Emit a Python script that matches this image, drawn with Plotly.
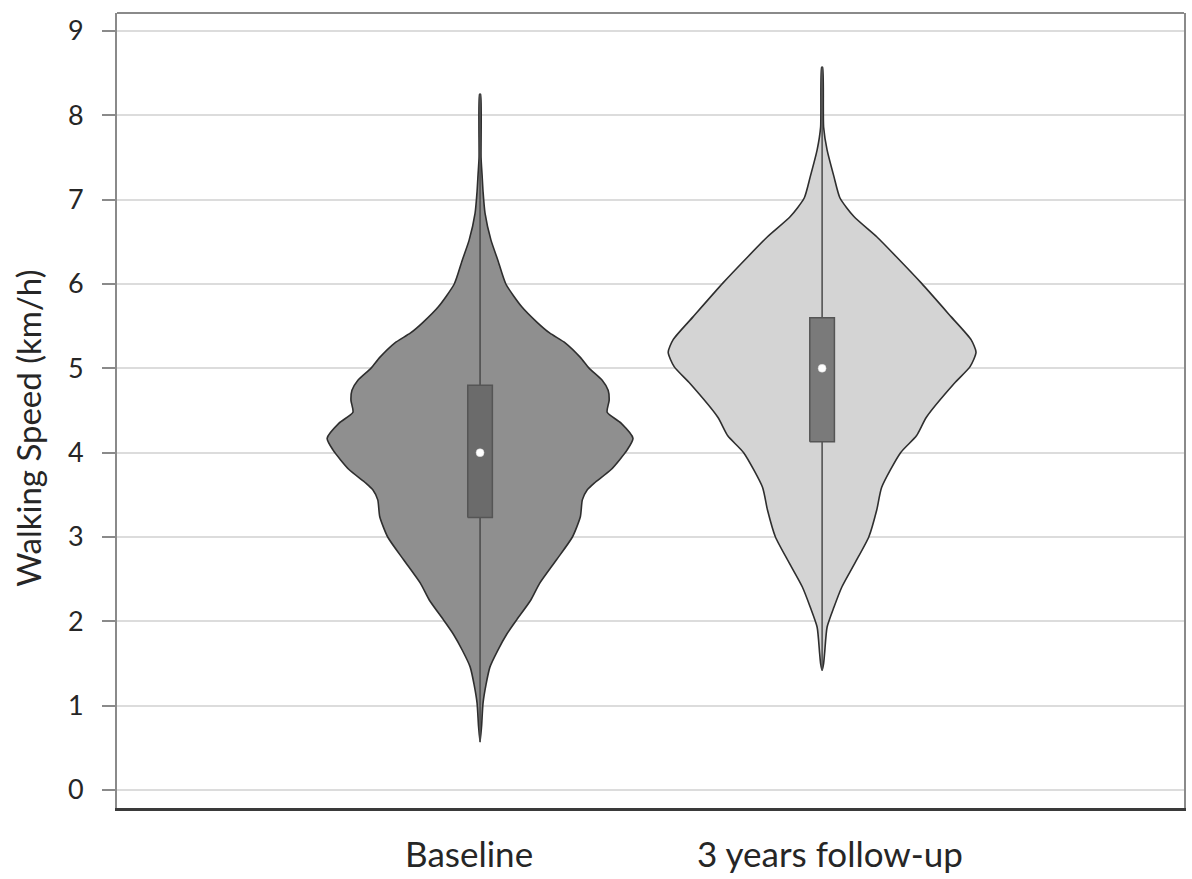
import plotly.graph_objects as go

# ---- data ----
categories = ["Baseline", "3 years follow-up"]
y_title = "Walking Speed (km/h)"

# Baseline density profile: walking speed (km/h) and relative half-width
base_speed = [0.57, 0.75, 1.03, 1.25, 1.46, 1.66, 1.85, 2.02, 2.25, 2.45, 2.73, 3.0, 3.24,
              3.44, 3.56, 3.64, 3.8, 4.03, 4.17, 4.35, 4.48, 4.62, 4.74, 4.86, 5.0, 5.13,
              5.30, 5.42, 5.54, 5.73, 6.0, 6.28, 6.52, 6.84, 7.1, 7.3, 7.5, 8.25]
base_width = [0, 1.5, 3, 6, 10, 18, 27, 37, 51, 60, 77, 93, 101,
              103, 108, 115, 132, 148, 154, 142, 128, 130, 129, 123, 110, 101,
              86, 70, 58, 42, 26, 18, 11, 5, 3, 2, 1, 0.5]

# Follow-up density profile
fu_speed = [1.42, 1.5, 1.62, 1.93, 2.17, 2.41, 2.69, 3.0, 3.32, 3.59, 4.0, 4.2, 4.42,
            4.82, 5.02, 5.19, 5.34, 5.61, 6.01, 6.32, 6.56, 6.80, 7.02, 7.27, 7.59, 7.86, 8.57]
fu_width = [0, 1.5, 2.5, 5, 12, 20, 33, 47, 55, 60, 79, 95, 105,
            133, 149, 155, 150, 130, 100, 75, 55, 32, 18, 12, 5, 1.5, 0.5]

# Box statistics
q1 = [3.23, 4.13]
median = [4.0, 5.0]
q3 = [4.80, 5.60]
vmin = [0.57, 1.42]
vmax = [8.25, 8.57]

y_ticks = [0, 1, 2, 3, 4, 5, 6, 7, 8, 9]

# ---- styling ----
positions = [1, 2]
label_offsets = [-0.032, 0.023]   # label centring as in the reference
fills = ["#8f8f8f", "#d4d4d4"]
box_fills = ["#6b6b6b", "#7a7a7a"]
max_half = 0.45      # half-width of the widest violin, in x units
box_half = 0.036
scale_ref = 155.0

fig = go.Figure()

profiles = [(base_speed, base_width), (fu_speed, fu_width)]
for i, (sp, wd) in enumerate(profiles):
    c = positions[i]
    xs = [c + w / scale_ref * max_half for w in wd] + [c - w / scale_ref * max_half for w in reversed(wd)]
    ys = list(sp) + list(reversed(sp))
    fig.add_trace(go.Scatter(x=xs, y=ys, mode="lines", fill="toself", fillcolor=fills[i],
                             line=dict(color="#2e2e2e", width=1.6, shape="spline", smoothing=0.6),
                             hoverinfo="skip", showlegend=False))
    # whisker
    fig.add_trace(go.Scatter(x=[c, c], y=[vmin[i], vmax[i]], mode="lines",
                             line=dict(color="#4a4a4a", width=1.5),
                             hoverinfo="skip", showlegend=False))
    # box
    fig.add_trace(go.Scatter(x=[c - box_half, c + box_half, c + box_half, c - box_half, c - box_half],
                             y=[q1[i], q1[i], q3[i], q3[i], q1[i]], mode="lines", fill="toself",
                             fillcolor=box_fills[i], line=dict(color="#555555", width=1.5),
                             hoverinfo="skip", showlegend=False))
    # median
    fig.add_trace(go.Scatter(x=[c], y=[median[i]], mode="markers",
                             marker=dict(color="white", size=8, line=dict(color="#cfcfcf", width=0.5)),
                             hoverinfo="skip", showlegend=False))

fig.update_layout(
    width=1192, height=879,
    margin=dict(l=117, r=8, t=13, b=71),
    paper_bgcolor="white", plot_bgcolor="white",
    font=dict(family="Lato, 'Open Sans', sans-serif", color="#262626"),
    xaxis=dict(range=[-0.0614, 3.058], automargin=False,
               tickvals=[p + o for p, o in zip(positions, label_offsets)], ticktext=categories,
               showgrid=False, zeroline=False, showline=True, linecolor="#3a3a3a", linewidth=2.5,
               ticks="", ticklabelstandoff=14, tickfont=dict(size=35, color="#262626")),
    yaxis=dict(range=[-0.2134, 9.2134], automargin=False, tickvals=y_ticks, showgrid=True,
               gridcolor="#dcdcdc", gridwidth=2, zeroline=False, showline=True,
               linecolor="#8a8a8a", linewidth=2,
               mirror=True, ticks="outside", ticklen=13, tickcolor="#8a8a8a", tickwidth=2,
               ticklabelstandoff=13,
               tickfont=dict(size=27, color="#262626")),
    shapes=[dict(type="line", xref="paper", yref="paper", x0=0, x1=1, y0=1, y1=1,
                 line=dict(color="#8a8a8a", width=2))],
    annotations=[dict(text=y_title, textangle=-90, xref="paper", yref="paper",
                      x=-0.0834, y=0.477, xanchor="center", yanchor="middle", showarrow=False,
                      font=dict(size=33, color="#262626"))],
)

fig.write_html("out.html")
